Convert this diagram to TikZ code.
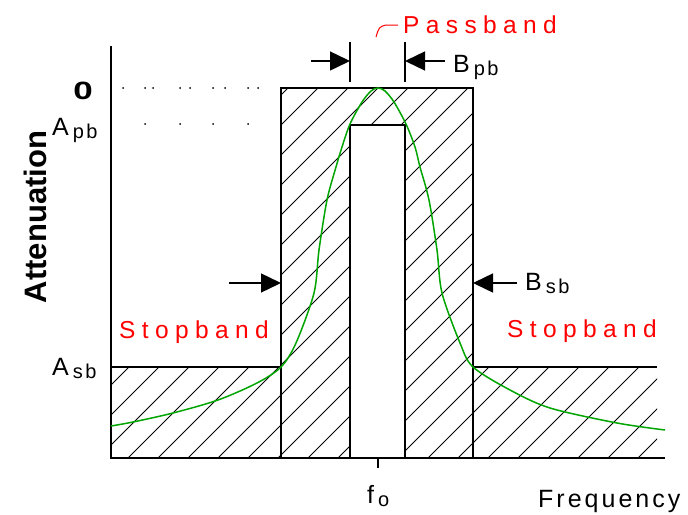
\documentclass[tikz,border=0pt]{standalone}
\usepackage{fontspec}
\setmainfont{Liberation Sans}
\newfontfamily\bandfont{Liberation Sans}[LetterSpace=26]
\newfontfamily\axfont{Liberation Sans}[LetterSpace=12]
\usetikzlibrary{arrows.meta}
\definecolor{respgreen}{RGB}{0,165,0}
\definecolor{bandred}{RGB}{255,0,0}
\newcommand{\lowsub}[1]{\hspace{4pt}\raisebox{-3pt}{\fontsize{20}{20}\selectfont #1}}

\begin{document}
\begin{tikzpicture}[x=1pt, y=-1pt,
    edge/.style={line width=1.6pt},
    hatch/.style={line width=0.8pt},
    dimarrow/.style={line width=1.4pt, -{Triangle[length=20pt,width=19pt]}},
    bandlbl/.style={text=bandred, font=\bandfont\fontsize{24.5}{28}\selectfont, inner sep=0pt, anchor=base west},
    symlbl/.style={font=\axfont\fontsize{25}{28}\selectfont, inner sep=0pt, anchor=base west}]
    \useasboundingbox (0,0) rectangle (688,514);
    % Hatched mask
    \begin{scope}
    \clip (111,367) -- (281,367) -- (281,88) -- (473,88) -- (473,367) -- (657,367) -- (657,458)
        -- (405,458) -- (405,125) -- (350,125) -- (350,458) -- (111,458) -- cycle;
    \foreach \k in {6,...,37}
        \draw[hatch] ({30*\k-442},458) -- ({30*\k-72},88);
    \end{scope}
    % Axes
    \coordinate (top) at (111,46);
    \coordinate (orig) at (111,458);
    \coordinate (fend) at (665,458);
    \draw[edge] (top) -- (orig) -- (fend);
    \draw[edge] (378,458) -- (378,468);
    % Passband and stopband limits
    \draw[edge] (111,367) -- (281,367) (281,458) -- (281,88) -- (473,88) -- (473,458) (473,367) -- (657,367);
    \draw[edge] (350,458) -- (350,125) -- (405,125) -- (405,458);
    % Filter response
    \draw[respgreen, line width=1.5pt] plot[smooth] coordinates {(111,426) (133,422) (173,413) (218,400)
        (257,383) (281,367) (296,343) (314,293) (319,250) (327,200) (336,167) (342,147) (350,124)
        (362,102) (371,91) (378,88) (385,91) (394,102) (406,124) (415,147) (420,167) (429,200)
        (437,250) (442,293) (460,343) (473,367) (510,390) (550,408) (617,423) (665,430)};
    % Dotted levels
    \foreach \x in {123,145,153,180,190,213,225,248,258}
        \fill (\x,88) circle (1pt);
    \foreach \x in {145,180,213,248}
        \fill (\x,124) circle (1pt);
    % Passband width
    \draw[line width=1.3pt] (350,42) -- (350,82) (405,42) -- (405,82);
    \coordinate (pbl) at (311,61);
    \coordinate (pbla) at (350,61);
    \coordinate (pbr) at (445,61);
    \coordinate (pbra) at (405,61);
    \draw[dimarrow] (pbl) -- (pbla);
    \draw[dimarrow] (pbr) -- (pbra);
    % Stopband width
    \coordinate (sbl) at (229,283);
    \coordinate (sbla) at (281,283);
    \coordinate (sbr) at (517,283);
    \coordinate (sbra) at (473,283);
    \draw[dimarrow] (sbl) -- (sbla);
    \draw[dimarrow] (sbr) -- (sbra);
    % Labels
    \node[bandlbl] (pass) at (403,33) {Passband};
    \coordinate (lead) at (398,25);
    \draw[bandred, line width=1pt] (376,37) .. controls (379,27) .. (386,25) -- (lead);
    \node[bandlbl] (stopl) at (119,338) {Stopband};
    \node[bandlbl] (stopr) at (507,337) {Stopband};
    \node[symlbl] (bpb) at (453,72) {B\lowsub{pb}};
    \node[symlbl] (bsb) at (525,290) {B\lowsub{sb}};
    \node[symlbl] (apb) at (52,135) {A\lowsub{pb}};
    \node[symlbl] (asb) at (52,375) {A\lowsub{sb}};
    \node[symlbl] (fo) at (367,503) {f\lowsub{o}};
    \node[symlbl] (freq) at (538,507) {Frequency};
    \node[font=\bfseries\fontsize{25}{28}\selectfont, xscale=1.4, inner sep=0pt] (zero) at (83,91) {0};
    \node[font=\bfseries\fontsize{31}{34}\selectfont, rotate=90, inner sep=0pt] (att) at (35,217) {Attenuation};
\end{tikzpicture}
\end{document}
